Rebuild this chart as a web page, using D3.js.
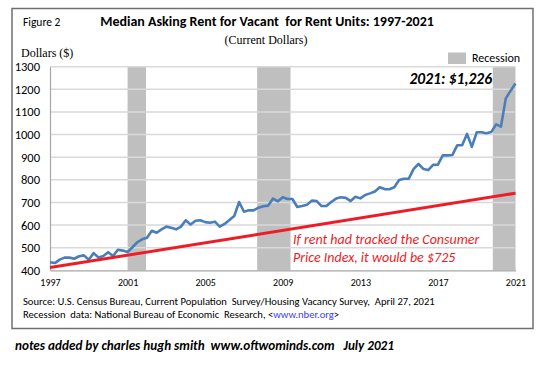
<!DOCTYPE html>
<html>
<head>
<meta charset="utf-8">
<script src="https://cdn.jsdelivr.net/npm/d3@7"></script>
<style>
  body { margin: 0; background: #fff; }
  svg { display: block; }
  text { white-space: pre; }
  .sans { font-family: Carlito, Calibri, Lato, sans-serif; }
  .serif { font-family: "Liberation Serif", "Times New Roman", serif; }
</style>
</head>
<body>
<svg width="550" height="368"></svg>
<script>
// quarterly median asking rent, 1997 Q1 .. 2021 Q1
var startYear = 1997;
var rent = [
  436, 432, 447, 456, 456, 451, 462, 466, 447, 476, 457, 463,
  480, 463, 491, 487, 481, 502, 524, 537, 544, 575, 566, 581,
  593, 588, 581, 593, 621, 602, 619, 621, 613, 610, 615, 593,
  605, 622, 640, 702, 659, 665, 665, 677, 683, 686, 717, 705,
  723, 715, 715, 680, 684, 690, 708, 706, 684, 684, 702, 717,
  723, 720, 706, 725, 718, 733, 740, 748, 767, 759, 758, 767,
  799, 805, 805, 848, 870, 848, 843, 866, 867, 908, 908, 910,
  953, 953, 1003, 946, 1010, 1010, 1006, 1011, 1045, 1035, 1160, 1194,
  1226
];
// "if rent had tracked CPI" line
var cpiYears = [1997, 2021];
var cpiValues = [412, 741];
var recessions = [[2001.0, 2001.95], [2007.68, 2009.4], [2019.83, 2021]];
var xTicks = [1997, 2001, 2005, 2009, 2013, 2017, 2021];
var yTicks = [400, 500, 600, 700, 800, 900, 1000, 1100, 1200, 1300];

var svg = d3.select("svg");
var plot = { left: 50, right: 515.5, top: 66.7, bottom: 270.3 };

var x = d3.scaleLinear().domain([1997, 2021]).range([plot.left, plot.right]);
var y = d3.scaleLinear().domain([400, 1300]).range([plot.bottom, plot.top]);

// frame
svg.append("rect")
  .attr("x", 12).attr("y", 8.5).attr("width", 521).attr("height", 320)
  .attr("fill", "none").attr("stroke", "#6f6f6f").attr("stroke-width", 1.5);

// titles
svg.append("text").attr("class", "sans")
  .attr("x", 23).attr("y", 26).attr("font-size", 11.5)
  .text("Figure 2");
svg.append("text").attr("class", "sans")
  .attr("x", 267).attr("y", 26).attr("text-anchor", "middle")
  .attr("font-size", 14).attr("font-weight", "bold")
  .text("Median Asking Rent for Vacant  for Rent Units: 1997-2021");
svg.append("text").attr("class", "serif")
  .attr("x", 266).attr("y", 44).attr("text-anchor", "middle")
  .attr("font-size", 12)
  .text("(Current Dollars)");
svg.append("text").attr("class", "serif")
  .attr("x", 21).attr("y", 57).attr("font-size", 12)
  .text("Dollars ($)");

// legend
svg.append("rect").attr("x", 448).attr("y", 52.5).attr("width", 18).attr("height", 11.5)
  .attr("fill", "#bfbfbf");
svg.append("text").attr("class", "sans")
  .attr("x", 472).attr("y", 62).attr("font-size", 12)
  .text("Recession");

// recession bands
svg.append("g").selectAll("rect")
  .data(recessions)
  .enter().append("rect")
  .attr("x", function (d) { return x(d[0]); })
  .attr("width", function (d) { return x(d[1]) - x(d[0]); })
  .attr("y", plot.top)
  .attr("height", plot.bottom - plot.top)
  .attr("fill", "#bfbfbf");

// gridlines
svg.append("g").selectAll("line")
  .data(yTicks.slice(1))
  .enter().append("line")
  .attr("x1", plot.left).attr("x2", plot.right)
  .attr("y1", function (d) { return y(d); })
  .attr("y2", function (d) { return y(d); })
  .attr("stroke", "#d9d9d9").attr("stroke-width", 1.5);

// axes
var yAxis = svg.append("g")
  .attr("transform", "translate(" + plot.left + ",0)")
  .call(d3.axisLeft(y).tickValues(yTicks).tickSize(0).tickPadding(10).tickFormat(d3.format("d")));
yAxis.select(".domain").attr("stroke", "#a6a6a6").attr("stroke-width", 1.2);
yAxis.selectAll("text").attr("class", "sans").attr("font-size", 12.5).attr("fill", "#000");

var xAxis = svg.append("g")
  .attr("transform", "translate(0," + plot.bottom + ")")
  .call(d3.axisBottom(x).tickValues(xTicks).tickSize(0).tickPadding(9).tickFormat(d3.format("d")));
xAxis.select(".domain").attr("stroke", "#a6a6a6").attr("stroke-width", 1.2);
xAxis.selectAll("text").attr("class", "sans").attr("font-size", 10).attr("fill", "#000");

// rent line
var line = d3.line()
  .x(function (d, i) { return x(startYear + i / 4); })
  .y(function (d) { return y(d); });
svg.append("path")
  .datum(rent)
  .attr("d", line)
  .attr("fill", "none")
  .attr("stroke", "#4a7ebb")
  .attr("stroke-width", 2.6)
  .attr("stroke-linejoin", "round");

// cpi line
svg.append("path")
  .datum(cpiYears.map(function (yr, i) { return [yr, cpiValues[i]]; }))
  .attr("d", d3.line().x(function (d) { return x(d[0]); }).y(function (d) { return y(d[1]); }))
  .attr("stroke", "#ee1c25")
  .attr("stroke-width", 3);

// annotations
svg.append("text").attr("class", "sans")
  .attr("x", 492).attr("y", 84).attr("text-anchor", "end")
  .attr("font-size", 15.5).attr("font-weight", "bold").attr("font-style", "italic")
  .text("2021: $1,226");

var note = svg.append("text").attr("class", "sans")
  .attr("fill", "#ee1c25").attr("font-size", 14).attr("font-style", "italic");
note.append("tspan").attr("x", 293).attr("y", 244).text("If rent had tracked the Consumer");
note.append("tspan").attr("x", 293).attr("y", 262).text("Price Index, it would be $725");

// source
var src = svg.append("text").attr("class", "sans").attr("font-size", 10.6);
src.append("tspan").attr("x", 23).attr("y", 305)
  .text("Source: U.S. Census Bureau, Current Population  Survey/Housing Vacancy Survey,  April 27, 2021");
var src2 = src.append("tspan").attr("x", 23).attr("y", 318);
src2.append("tspan").text("Recession  data: National Bureau of Economic  Research, <");
src2.append("tspan").attr("fill", "#3b3bff").text("www.nber.org");
src2.append("tspan").text(">");

svg.append("text").attr("class", "sans")
  .attr("x", 15).attr("y", 350)
  .attr("font-size", 13.2).attr("font-weight", "bold").attr("font-style", "italic")
  .text("notes added by charles hugh smith  www.oftwominds.com   July 2021");
</script>
</body>
</html>
